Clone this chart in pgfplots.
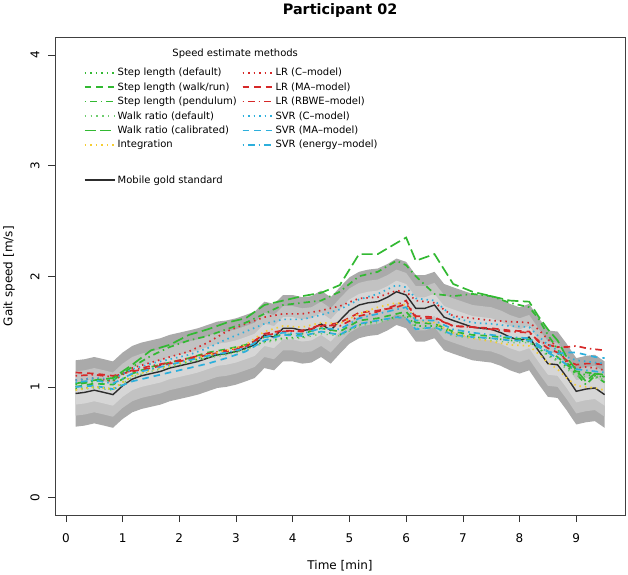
\documentclass[border=0pt]{standalone}
\usepackage{fontspec}
\setmainfont{DejaVu Sans}
\usepackage{pgfplots}
\pgfplotsset{compat=1.18}
\usepackage{pgfplotstable}
\usepgfplotslibrary{fillbetween}

\definecolor{bandA}{RGB}{170,170,170}
\definecolor{bandB}{RGB}{194,194,194}
\definecolor{bandC}{RGB}{214,214,214}
\definecolor{cgreen}{RGB}{50,185,50}
\definecolor{clgreen}{RGB}{110,205,110}
\definecolor{cred}{RGB}{214,40,40}
\definecolor{ccyan}{RGB}{45,175,220}
\definecolor{cyellow}{RGB}{245,205,50}
\definecolor{cgold}{RGB}{45,45,45}

\pgfplotstableread{
t gs l3 l2 l1 u1 u2 u3
0.17 0.94 0.64 0.74 0.84 1.04 1.14 1.24
0.33 0.95 0.65 0.75 0.85 1.05 1.15 1.25
0.50 0.97 0.67 0.77 0.87 1.07 1.17 1.27
0.67 0.95 0.65 0.75 0.85 1.05 1.15 1.25
0.83 0.93 0.63 0.73 0.83 1.03 1.13 1.23
1.00 1.01 0.71 0.81 0.91 1.11 1.21 1.31
1.17 1.07 0.77 0.87 0.97 1.17 1.27 1.37
1.33 1.10 0.80 0.90 1.00 1.20 1.30 1.40
1.50 1.12 0.82 0.92 1.02 1.22 1.32 1.42
1.67 1.14 0.84 0.94 1.04 1.24 1.34 1.44
1.83 1.17 0.87 0.97 1.07 1.27 1.37 1.47
2.00 1.19 0.89 0.99 1.09 1.29 1.39 1.49
2.17 1.21 0.91 1.01 1.11 1.31 1.41 1.51
2.33 1.23 0.93 1.03 1.13 1.33 1.43 1.53
2.50 1.26 0.96 1.06 1.16 1.36 1.46 1.56
2.67 1.29 0.99 1.09 1.19 1.39 1.49 1.59
2.83 1.30 1.00 1.10 1.20 1.40 1.50 1.60
3.00 1.32 1.02 1.12 1.22 1.42 1.52 1.62
3.17 1.35 1.05 1.15 1.25 1.45 1.55 1.65
3.33 1.38 1.08 1.18 1.28 1.48 1.58 1.68
3.50 1.47 1.17 1.27 1.37 1.57 1.67 1.77
3.67 1.45 1.15 1.25 1.35 1.55 1.65 1.75
3.83 1.53 1.23 1.33 1.43 1.63 1.73 1.83
4.00 1.53 1.23 1.33 1.43 1.63 1.73 1.83
4.17 1.51 1.21 1.31 1.41 1.61 1.71 1.81
4.33 1.52 1.22 1.32 1.42 1.62 1.72 1.82
4.50 1.57 1.27 1.37 1.47 1.67 1.77 1.87
4.67 1.51 1.21 1.31 1.41 1.61 1.71 1.81
4.83 1.60 1.30 1.40 1.50 1.70 1.80 1.90
5.00 1.69 1.39 1.49 1.59 1.79 1.89 1.99
5.17 1.74 1.44 1.54 1.64 1.84 1.94 2.04
5.33 1.76 1.46 1.56 1.66 1.86 1.96 2.06
5.50 1.77 1.47 1.57 1.67 1.87 1.97 2.07
5.67 1.81 1.51 1.61 1.71 1.91 2.01 2.11
5.83 1.86 1.56 1.66 1.76 1.96 2.06 2.16
6.00 1.83 1.53 1.63 1.73 1.93 2.03 2.13
6.17 1.71 1.41 1.51 1.61 1.81 1.91 2.01
6.33 1.71 1.41 1.51 1.61 1.81 1.91 2.01
6.50 1.74 1.44 1.54 1.64 1.84 1.94 2.04
6.67 1.63 1.33 1.43 1.53 1.73 1.83 1.93
6.83 1.60 1.30 1.40 1.50 1.70 1.80 1.90
7.00 1.57 1.27 1.37 1.47 1.67 1.77 1.87
7.17 1.54 1.24 1.34 1.44 1.64 1.74 1.84
7.33 1.53 1.23 1.33 1.43 1.63 1.73 1.83
7.50 1.52 1.22 1.32 1.42 1.62 1.72 1.82
7.67 1.49 1.19 1.29 1.39 1.59 1.69 1.79
7.83 1.45 1.15 1.25 1.35 1.55 1.65 1.75
8.00 1.42 1.12 1.22 1.32 1.52 1.62 1.72
8.17 1.45 1.15 1.25 1.35 1.55 1.65 1.75
8.33 1.33 1.03 1.13 1.23 1.43 1.53 1.63
8.50 1.21 0.91 1.01 1.11 1.31 1.41 1.51
8.67 1.20 0.90 1.00 1.10 1.30 1.40 1.50
8.83 1.09 0.79 0.89 0.99 1.19 1.29 1.39
9.00 0.96 0.66 0.76 0.86 1.06 1.16 1.26
9.17 0.98 0.68 0.78 0.88 1.08 1.18 1.28
9.33 0.99 0.69 0.79 0.89 1.09 1.19 1.29
9.50 0.93 0.63 0.73 0.83 1.03 1.13 1.23
}\gold

\pgfplotstableread{
t sld slw slp wrd wrc int lrc lrma lrr svc svma sve
0.17 0.98 1.00 1.02 0.97 1.03 0.97 1.06 1.13 1.10 1.06 1.00 1.04
0.50 1.00 1.03 1.05 0.99 1.06 1.00 1.08 1.12 1.11 1.08 1.01 1.06
0.83 0.98 1.02 1.06 0.97 1.08 0.98 1.05 1.10 1.09 1.07 0.98 1.03
1.17 1.10 1.12 1.18 1.09 1.20 1.10 1.17 1.14 1.15 1.16 1.05 1.12
1.50 1.16 1.18 1.28 1.14 1.33 1.15 1.22 1.17 1.19 1.21 1.09 1.16
1.83 1.19 1.22 1.36 1.18 1.38 1.19 1.27 1.21 1.22 1.25 1.13 1.20
2.17 1.23 1.26 1.42 1.22 1.47 1.24 1.32 1.25 1.26 1.29 1.17 1.24
2.50 1.27 1.31 1.46 1.26 1.52 1.29 1.40 1.29 1.30 1.35 1.21 1.28
2.83 1.30 1.34 1.52 1.29 1.58 1.33 1.50 1.32 1.33 1.43 1.26 1.31
3.17 1.34 1.38 1.58 1.33 1.62 1.38 1.57 1.36 1.37 1.50 1.32 1.35
3.50 1.41 1.45 1.66 1.40 1.74 1.50 1.63 1.48 1.46 1.57 1.42 1.45
3.83 1.44 1.47 1.74 1.43 1.78 1.55 1.66 1.51 1.50 1.61 1.47 1.49
4.17 1.45 1.48 1.76 1.44 1.82 1.54 1.66 1.50 1.51 1.61 1.46 1.48
4.50 1.50 1.53 1.78 1.48 1.85 1.58 1.69 1.55 1.56 1.65 1.50 1.53
4.83 1.47 1.50 1.86 1.46 1.92 1.57 1.73 1.58 1.55 1.70 1.47 1.52
5.17 1.56 1.60 2.00 1.55 2.20 1.66 1.80 1.67 1.64 1.79 1.57 1.62
5.50 1.60 1.62 2.04 1.58 2.20 1.72 1.81 1.69 1.68 1.84 1.60 1.66
5.83 1.63 1.66 2.14 1.62 2.30 1.76 1.87 1.72 1.74 1.92 1.63 1.70
6.00 1.65 1.68 2.10 1.63 2.35 1.74 1.86 1.75 1.78 1.90 1.62 1.72
6.17 1.55 1.58 2.00 1.53 2.14 1.60 1.78 1.64 1.62 1.80 1.52 1.60
6.50 1.55 1.57 1.84 1.53 2.20 1.58 1.76 1.63 1.62 1.78 1.54 1.60
6.83 1.48 1.50 1.82 1.46 1.93 1.49 1.64 1.55 1.55 1.63 1.47 1.52
7.17 1.45 1.47 1.84 1.44 1.86 1.44 1.62 1.54 1.54 1.58 1.45 1.49
7.50 1.44 1.46 1.82 1.42 1.82 1.41 1.60 1.53 1.52 1.57 1.44 1.47
7.83 1.42 1.44 1.76 1.40 1.78 1.38 1.59 1.51 1.50 1.55 1.42 1.45
8.17 1.41 1.43 1.72 1.40 1.77 1.37 1.58 1.50 1.49 1.54 1.42 1.44
8.33 1.35 1.38 1.62 1.34 1.64 1.30 1.52 1.41 1.42 1.46 1.36 1.38
8.50 1.29 1.32 1.47 1.28 1.52 1.22 1.43 1.35 1.38 1.38 1.32 1.31
8.67 1.24 1.27 1.34 1.23 1.42 1.16 1.36 1.31 1.36 1.33 1.30 1.26
8.83 1.18 1.20 1.22 1.16 1.27 1.08 1.22 1.24 1.36 1.27 1.31 1.20
9.00 1.12 1.14 1.12 1.10 1.15 1.01 1.17 1.20 1.37 1.24 1.31 1.16
9.17 1.11 1.13 1.02 1.09 1.05 1.00 1.18 1.21 1.35 1.23 1.29 1.15
9.33 1.10 1.12 1.10 1.08 1.12 0.99 1.17 1.21 1.34 1.22 1.27 1.14
9.50 1.09 1.11 1.04 1.07 1.09 0.97 1.15 1.20 1.33 1.21 1.26 1.13
}\est

\tikzset{
  rdot/.style={line width=1.7pt, dash pattern=on 1.5pt off 4pt},
  rdash/.style={line width=1.7pt, dash pattern=on 6.5pt off 5pt},
  rdotdash/.style={line width=1.7pt, dash pattern=on 1.5pt off 4pt on 6.5pt off 4pt},
  rlong/.style={line width=1.7pt, dash pattern=on 11pt off 4.5pt},
  rdotlight/.style={line width=1.3pt, dash pattern=on 1.3pt off 4.5pt},
}

\begin{document}
\begin{tikzpicture}
\begin{axis}[
  at={(55pt,59pt)}, anchor=south west,
  scale only axis, width=570pt, height=478pt,
  xmin=-0.19, xmax=9.86, ymin=-0.16, ymax=4.16,
  xtick={0,1,...,9}, ytick={0,1,2,3,4},
  tick pos=left, tick align=outside, major tick length=7pt,
  tick style={black!80, line width=0.6pt},
  axis line style={black!75, line width=0.8pt},
  tick label style={font=\fontsize{12}{14}\selectfont},
  /pgf/number format/assume math mode=true,
  xticklabel style={yshift=-8pt},
  yticklabel style={rotate=90, anchor=south, inner ysep=8.5pt},
  legend columns=2,
  legend cell align=left,
  legend style={at={(rel axis cs:0.045,0.944)}, anchor=north west, draw=none, fill=none,
    font=\fontsize{10}{11}\selectfont, row sep=1.3pt,
    /tikz/every even column/.append style={column sep=3pt}},
  legend image code/.code={\path (0pt,0pt) -- (30pt,0pt); \draw[#1] (0pt,0pt) -- (22pt,0pt);},
]
% bands
\addplot[draw=none, name path=u3, forget plot] table[x=t, y=u3] {\gold};
\addplot[draw=none, name path=l3, forget plot] table[x=t, y=l3] {\gold};
\addplot[draw=none, name path=u2, forget plot] table[x=t, y=u2] {\gold};
\addplot[draw=none, name path=l2, forget plot] table[x=t, y=l2] {\gold};
\addplot[draw=none, name path=u1, forget plot] table[x=t, y=u1] {\gold};
\addplot[draw=none, name path=l1, forget plot] table[x=t, y=l1] {\gold};
\addplot[fill=bandA, draw=none, forget plot] fill between[of=u3 and l3];
\addplot[fill=bandB, draw=none, forget plot] fill between[of=u2 and l2];
\addplot[fill=bandC, draw=none, forget plot] fill between[of=u1 and l1];
% gold standard
\addplot[cgold, line width=1.4pt, forget plot] table[x=t, y=gs] {\gold};
% estimates (row-major legend order)
\addplot[cgreen, rdot] table[x=t, y=sld] {\est};
\addlegendentry{Step length (default)}
\addplot[cred, rdot] table[x=t, y=lrc] {\est};
\addlegendentry{LR (C\textendash model)}
\addplot[cgreen, rdash] table[x=t, y=slw] {\est};
\addlegendentry{Step length (walk/run)}
\addplot[cred, rdash] table[x=t, y=lrma] {\est};
\addlegendentry{LR (MA\textendash model)}
\addplot[cgreen, rdotdash] table[x=t, y=slp] {\est};
\addlegendentry{Step length (pendulum)}
\addplot[cred, rdotdash] table[x=t, y=lrr] {\est};
\addlegendentry{LR (RBWE\textendash model)}
\addplot[clgreen, rdotlight] table[x=t, y=wrd] {\est};
\addlegendentry{Walk ratio (default)}
\addplot[ccyan, rdot] table[x=t, y=svc] {\est};
\addlegendentry{SVR (C\textendash model)}
\addplot[cgreen, rlong] table[x=t, y=wrc] {\est};
\addlegendentry{Walk ratio (calibrated)}
\addplot[ccyan, rdash] table[x=t, y=svma] {\est};
\addlegendentry{SVR (MA\textendash model)}
\addplot[cyellow, rdot] table[x=t, y=int] {\est};
\addlegendentry{Integration}
\addplot[ccyan, rdotdash] table[x=t, y=sve] {\est};
\addlegendentry{SVR (energy\textendash model)}
\addlegendimage{empty legend}
\addlegendentry{\rule{0pt}{14pt}}
\addlegendimage{empty legend}
\addlegendentry{}
\addlegendimage{cgold, line width=1.4pt}
\addlegendentry{Mobile gold standard}
\node[font=\fontsize{10}{11}\selectfont] at (rel axis cs:0.316,0.966) {Speed estimate methods};
\end{axis}
\node[font=\bfseries\fontsize{14.4}{16}\selectfont] at (340pt,564pt) {Participant 02};
\node[font=\fontsize{12}{14}\selectfont] at (340pt,8pt) {Time [min]};
\node[font=\fontsize{12}{14}\selectfont, rotate=90] at (9pt,298pt) {Gait speed [m/s]};
\path (0,0) rectangle (628pt,574pt);
\end{tikzpicture}
\end{document}
